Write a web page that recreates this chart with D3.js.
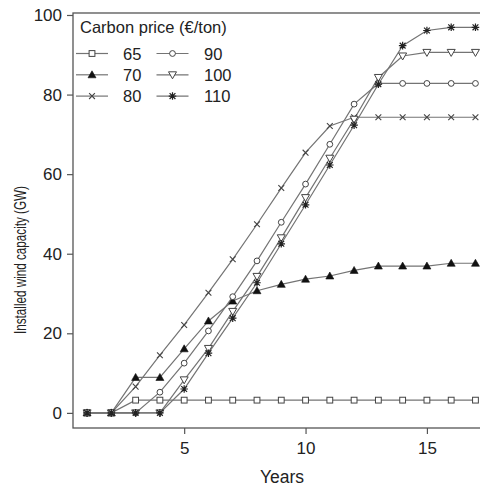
<!DOCTYPE html>
<html>
<head>
<meta charset="utf-8">
<script src="https://cdn.jsdelivr.net/npm/d3@7"></script>
<style>
  body { margin: 0; background: #fff; }
  svg { display: block; font-family: "Liberation Sans", Arial, sans-serif; }
</style>
</head>
<body>
<svg id="chart" width="480" height="490"></svg>
<script>
const years = d3.range(1, 18);
const prices = ["65", "70", "80", "90", "100", "110"];
const s65 = [0, 0, 3.2, 3.2, 3.2, 3.2, 3.2, 3.2, 3.2, 3.2, 3.2, 3.2, 3.2, 3.2, 3.2, 3.2, 3.2];
const s70 = [0, 0, 8.9, 8.9, 16.1, 23.1, 28.1, 30.7, 32.3, 33.6, 34.4, 35.8, 36.9, 36.9, 36.9, 37.6, 37.6];
const s80 = [0, 0, 6.6, 14.5, 22.1, 30.2, 38.6, 47.4, 56.5, 65.4, 72.1, 74.3, 74.3, 74.3, 74.3, 74.3, 74.3];
const s90 = [0, 0, 0, 5.2, 12.5, 20.6, 29.2, 38.2, 47.9, 57.5, 67.5, 77.6, 82.8, 82.8, 82.8, 82.8, 82.8];
const s100 = [0, 0, 0, 0, 8.3, 16.2, 25.5, 34.3, 44.0, 54.1, 64.0, 73.8, 84.3, 89.7, 90.6, 90.6, 90.6];
const s110 = [0, 0, 0, 0, 6.0, 15.0, 23.8, 32.7, 42.5, 52.3, 62.3, 72.3, 82.6, 92.3, 96.1, 96.9, 96.9];
const yTicks = [0, 20, 40, 60, 80, 100];
const xTicks = [5, 10, 15];

const seriesValues = [s65, s70, s80, s90, s100, s110];
const shapes = ["square", "triUp", "cross", "circle", "triDown", "star"];

const svg = d3.select("#chart");
const plotL = 73, plotT = 13, plotB = 428, plotR = 491;

const x = d3.scaleLinear().domain([0.42, 17.64]).range([plotL, plotR]);
const y = d3.scaleLinear().domain([-3.8, 100.5]).range([plotB, plotT]);

const lineCol = "#747474";
const markCol = "#444";
const font = 17;

// frame (right side falls outside the picture)
svg.append("rect")
  .attr("x", plotL).attr("y", plotT)
  .attr("width", plotR - plotL).attr("height", plotB - plotT)
  .attr("fill", "none").attr("stroke", "#555").attr("stroke-width", 1.3);

const yAxis = svg.append("g")
  .attr("transform", `translate(${plotL},0)`)
  .call(d3.axisLeft(y).tickValues(yTicks).tickSize(6).tickSizeOuter(0).tickPadding(5));
yAxis.select(".domain").remove();
yAxis.selectAll("line").attr("stroke", "#555").attr("stroke-width", 1.2);
yAxis.selectAll("text").attr("font-size", font).attr("fill", "#222")
  .attr("font-family", "Liberation Sans, Arial, sans-serif");

const xAxis = svg.append("g")
  .attr("transform", `translate(0,${plotB})`)
  .call(d3.axisBottom(x).tickValues(xTicks).tickSize(6).tickSizeOuter(0).tickPadding(8));
xAxis.select(".domain").remove();
xAxis.selectAll("line").attr("stroke", "#555").attr("stroke-width", 1.2);
xAxis.selectAll("text").attr("font-size", font).attr("fill", "#222")
  .attr("font-family", "Liberation Sans, Arial, sans-serif");

svg.append("text")
  .attr("x", 282).attr("y", 483)
  .attr("text-anchor", "middle")
  .attr("font-size", 17.5).attr("fill", "#222")
  .text("Years");

svg.append("text")
  .attr("transform", "translate(26,260) rotate(-90)")
  .attr("text-anchor", "middle")
  .attr("font-size", 16).attr("fill", "#222")
  .attr("textLength", 148).attr("lengthAdjust", "spacingAndGlyphs")
  .text("Installed wind capacity (GW)");

// marker drawing
function drawMarker(g, shape, cx, cy) {
  const s = 2.9;
  if (shape === "square") {
    g.append("rect").attr("x", cx - s).attr("y", cy - s)
      .attr("width", 2 * s).attr("height", 2 * s)
      .attr("fill", "#fff").attr("stroke", markCol).attr("stroke-width", 1);
  } else if (shape === "circle") {
    g.append("circle").attr("cx", cx).attr("cy", cy).attr("r", s)
      .attr("fill", "#fff").attr("stroke", markCol).attr("stroke-width", 1);
  } else if (shape === "triUp") {
    const h = 4;
    g.append("path")
      .attr("d", `M${cx},${cy - h}L${cx + h},${cy + h * 0.75}L${cx - h},${cy + h * 0.75}Z`)
      .attr("fill", "#111").attr("stroke", "#111").attr("stroke-width", 0.6);
  } else if (shape === "triDown") {
    const h = 4;
    g.append("path")
      .attr("d", `M${cx},${cy + h}L${cx + h},${cy - h * 0.75}L${cx - h},${cy - h * 0.75}Z`)
      .attr("fill", "#fff").attr("stroke", markCol).attr("stroke-width", 1);
  } else if (shape === "cross") {
    g.append("path")
      .attr("d", `M${cx - s},${cy - s}L${cx + s},${cy + s}M${cx - s},${cy + s}L${cx + s},${cy - s}`)
      .attr("stroke", markCol).attr("stroke-width", 1.1).attr("fill", "none");
  } else if (shape === "star") {
    g.append("path")
      .attr("d", `M${cx - s},${cy - s}L${cx + s},${cy + s}M${cx - s},${cy + s}L${cx + s},${cy - s}` +
        `M${cx - s * 1.3},${cy}L${cx + s * 1.3},${cy}M${cx},${cy - s * 1.3}L${cx},${cy + s * 1.3}`)
      .attr("stroke", "#222").attr("stroke-width", 1.2).attr("fill", "none");
  }
}

const line = d3.line().x((d, i) => x(years[i])).y(d => y(d));

const plot = svg.append("g");
seriesValues.forEach((vals) => {
  plot.append("path").datum(vals)
    .attr("d", line)
    .attr("fill", "none").attr("stroke", lineCol).attr("stroke-width", 1.2);
});
seriesValues.forEach((vals, k) => {
  const g = plot.append("g");
  vals.forEach((v, i) => drawMarker(g, shapes[k], x(years[i]), y(v)));
});

// legend
const lg = svg.append("g");
lg.append("text").attr("x", 80).attr("y", 33)
  .attr("font-size", 16.5).attr("fill", "#222")
  .text("Carbon price (\u20ac/ton)");
const colX = [76, 156.5];
const labX = [123, 204];
prices.forEach((p, k) => {
  const col = k < 3 ? 0 : 1;
  const row = k % 3;
  const cy = 53.5 + row * 21.3;
  lg.append("line")
    .attr("x1", colX[col]).attr("x2", colX[col] + 32)
    .attr("y1", cy).attr("y2", cy)
    .attr("stroke", lineCol).attr("stroke-width", 1.2);
  drawMarker(lg, shapes[k], colX[col] + 16, cy);
  lg.append("text").attr("x", labX[col]).attr("y", cy + 6)
    .attr("font-size", 16.5).attr("fill", "#222").text(p);
});
</script>
</body>
</html>
